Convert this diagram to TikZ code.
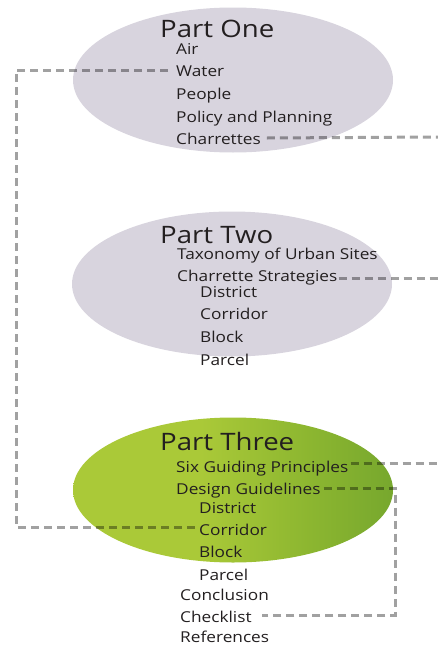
\documentclass[tikz,border=0pt]{standalone}
\usepackage{fontspec}
\setmainfont[FakeStretch=1.15]{Open Sans}
\usetikzlibrary{calc,shapes.geometric}
\definecolor{ovalgray}{RGB}{216,212,222}
\definecolor{leaf}{RGB}{170,201,56}
\definecolor{leafmid}{RGB}{140,182,48}
\definecolor{leafdark}{RGB}{78,140,42}
\definecolor{ink}{RGB}{35,31,32}
\pgfdeclarehorizontalshading{leafshade}{100bp}{
  color(0bp)=(leaf); color(45bp)=(leaf); color(62bp)=(leafmid); color(100bp)=(leafdark)}
\tikzset{
  oval/.style={ellipse, minimum width=320pt, minimum height=145pt, inner sep=0pt},
  title/.style={anchor=base west, inner sep=0pt, text=ink, font=\fontsize{24}{29}\selectfont},
  item/.style={anchor=base west, inner sep=0pt, text=ink, font=\fontsize{15}{19}\selectfont},
  link/.style={draw=black, draw opacity=0.37, line width=3pt, dash pattern=on 8pt off 5pt}
}
\begin{document}
\begin{tikzpicture}[x=1pt, y=-1pt]
\useasboundingbox (0,0) rectangle (438,645);

% the three parts
\node[oval, fill=ovalgray] (one) at (233,80) {};
\node[oval, fill=ovalgray] (two) at (232,284) {};
\node[oval, shading=leafshade] (three) at (233,490) {};

% Part One
\node[title] (t1) at (160,37) {Part One};
\node[item] (air) at (176,54) {Air};
\node[item] (water) at (176,76) {Water};
\node[item] (people) at (176,99) {People};
\node[item] (policy) at (176,122) {Policy and Planning};
\node[item] (charr) at (176,144) {Charrettes};

% Part Two
\node[title] (t2) at (160,243) {Part Two};
\node[item] (taxon) at (177,259) {Taxonomy of Urban Sites};
\node[item] (strat) at (177,281) {Charrette Strategies};
\node[item] (dist2) at (200,297) {District};
\node[item] (corr2) at (200,319) {Corridor};
\node[item] (block2) at (200,342) {Block};
\node[item] (parc2) at (200,365) {Parcel};

% Part Three
\node[title] (t3) at (160,450) {Part Three};
\node[item] (six) at (176,472) {Six Guiding Principles};
\node[item] (guide) at (176,494) {Design Guidelines};
\node[item] (dist3) at (199,513) {District};
\node[item] (corr3) at (199,535) {Corridor};
\node[item] (block3) at (199,557) {Block};
\node[item] (parc3) at (199,580) {Parcel};
\node[item] (concl) at (180,600) {Conclusion};
\node[item] (check) at (180,622) {Checklist};
\node[item] (refs) at (180,642) {References};

% dashed links
\coordinate (railL) at (16,300);
\coordinate (railR) at (395,550);
\coordinate (edgeB) at (438,137);
\coordinate (edgeC) at (438,278);
\coordinate (edgeD) at (438,463);

\draw[link] ([shift={(-8,-6)}]water.base west) -| (railL) |- ([shift={(-2,-8)}]corr3.base west);
\draw[link] ([shift={(6,-6)}]charr.base east) -- (edgeB);
\draw[link] ([shift={(1,-3)}]strat.base east) -- (edgeC);
\draw[link] ([shift={(2,-9)}]six.base east) -- (edgeD);
\draw[link] ([shift={(3,-6)}]guide.base east) -| (railR) |- ([shift={(10,-7)}]check.base east);
\end{tikzpicture}
\end{document}
